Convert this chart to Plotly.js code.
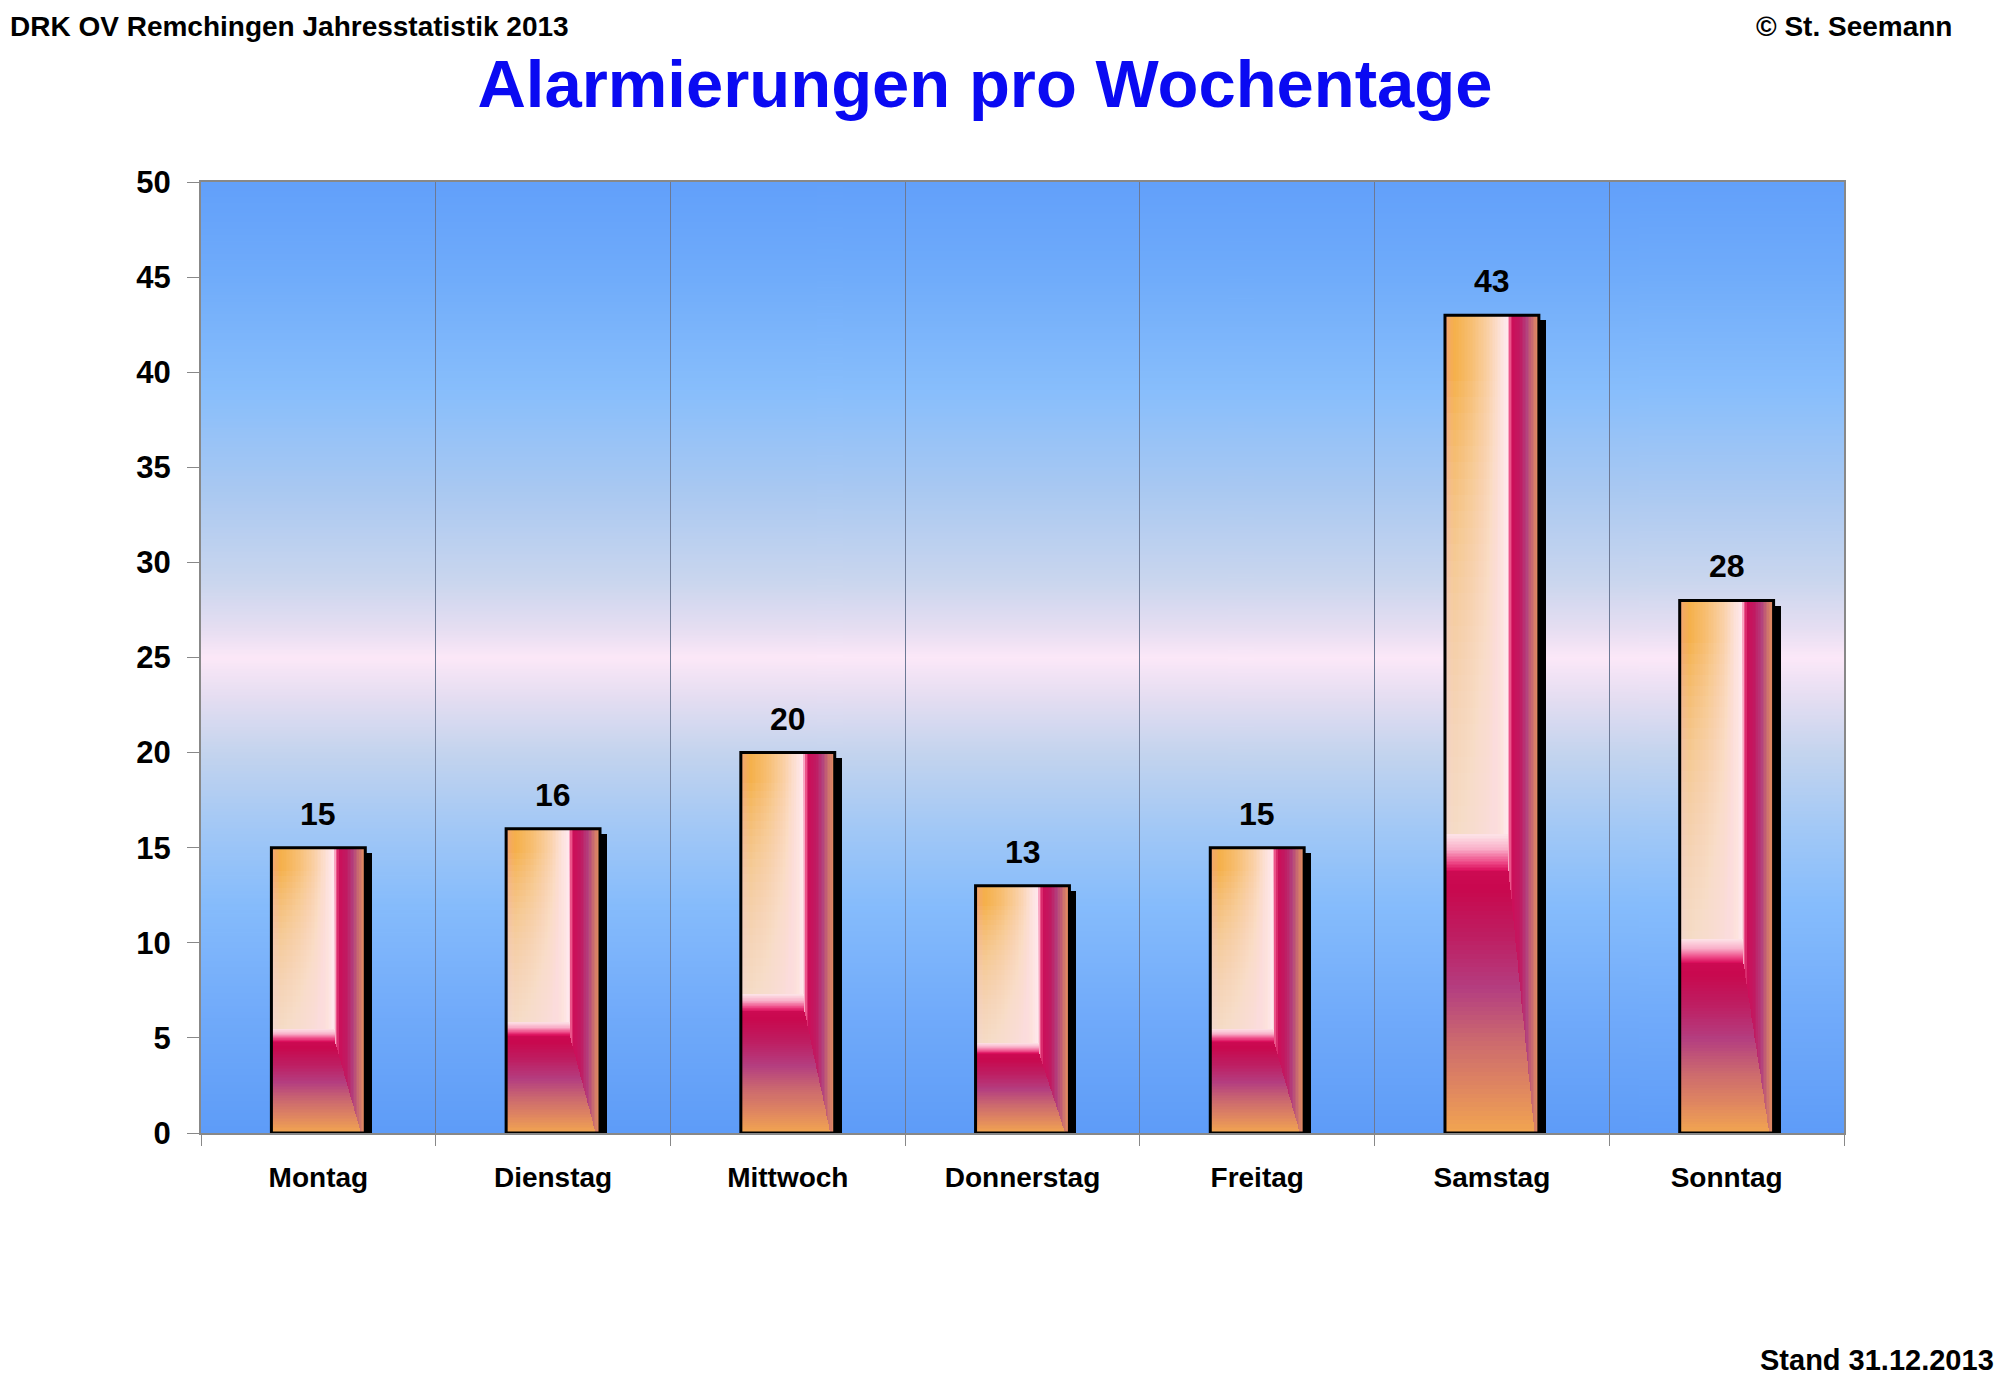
<!DOCTYPE html>
<html>
<head>
<meta charset="utf-8">
<script src="https://cdn.plot.ly/plotly-3.0.1.min.js"></script>
<style>html,body{margin:0;padding:0;background:#fff;}#chart{width:2000px;height:1387px;}</style>
</head>
<body>
<div id="chart"></div>
<script>
// ---- data ----
const days = ["Montag", "Dienstag", "Mittwoch", "Donnerstag", "Freitag", "Samstag", "Sonntag"];
const alarms = [15, 16, 20, 13, 15, 43, 28];
const yTicks = [0, 5, 10, 15, 20, 25, 30, 35, 40, 45, 50];
const chartTitle = "Alarmierungen pro Wochentage";
const headerLeft = "DRK OV Remchingen Jahresstatistik 2013";
const headerRight = "© St. Seemann";
const footerRight = "Stand 31.12.2013";

// ---- style ----
const FONT = "'Comic Sans MS', 'Liberation Sans', Arial, sans-serif";
const BW = 0.4;            // bar width (category units)
const N = 60;              // horizontal colour stripes per bar
const M = 60;              // vertical slices in lower section
const G = 24;              // slices in glow band
const MF = 30;             // white fade layers
const LOW = 0.32;          // lower section share of bar height
const GLOW = 0.045;        // glow band share of bar height

const barScale = [
  [0.00, "#F2A088"], [0.03, "#F4A866"], [0.10, "#F5B04A"], [0.28, "#F7BE72"],
  [0.46, "#FAD0A6"], [0.60, "#FDE2DC"], [0.665, "#FFE8EE"], [0.685, "#F26496"],
  [0.72, "#CC0E58"], [0.80, "#C01A62"], [0.87, "#B2407E"], [0.94, "#CE746C"],
  [1.00, "#EA955C"]
];
const lowScale = [
  [0.00, "#F2A650"], [0.15, "#E28A5E"], [0.35, "#CC6A6E"], [0.55, "#B43E80"],
  [0.75, "#BE1E62"], [0.93, "#C8084E"], [1.00, "#CC0A52"]
];
const glowScale = [[0.0, "#D80A58"], [0.25, "#EE4A88"], [0.6, "#F9AEC8"], [1.0, "#FDE4E8"]];
const bgStops = [
  [0.00, "#62A0FA"], [0.10, "#70ACFA"], [0.22, "#88BEFC"], [0.32, "#A8C8F2"],
  [0.42, "#CAD6EE"], [0.47, "#E6DEF2"], [0.50, "#FCE8F8"], [0.54, "#E6DEF2"],
  [0.60, "#C4D4EE"], [0.68, "#A2C8F6"], [0.76, "#86BCFC"], [0.88, "#70AAFA"],
  [1.00, "#5E9CF8"]
];

function hex2rgb(h){return [parseInt(h.substr(1,2),16),parseInt(h.substr(3,2),16),parseInt(h.substr(5,2),16)];}
function scaleAt(sc, t){
  t = Math.max(0, Math.min(1, t));
  for (let i = 1; i < sc.length; i++) {
    if (t <= sc[i][0]) {
      const a = sc[i-1], b = sc[i];
      const f = (t - a[0]) / (b[0] - a[0] || 1);
      const ca = hex2rgb(a[1]), cb = hex2rgb(b[1]);
      return "rgb(" + ca.map((v,k)=>Math.round(v + (cb[k]-v)*f)).join(",") + ")";
    }
  }
  return sc[sc.length-1][1];
}

// background gradient image
const cv = document.createElement("canvas");
cv.width = 4; cv.height = 600;
const ctx = cv.getContext("2d");
const grd = ctx.createLinearGradient(0, 0, 0, 600);
bgStops.forEach(s => grd.addColorStop(s[0], s[1]));
ctx.fillStyle = grd; ctx.fillRect(0, 0, 4, 600);
const bgURL = cv.toDataURL("image/png");

const xIdx = days.map((d, i) => i);

// shadow
const shadow = {
  type: "bar", x: xIdx, y: alarms, base: alarms.map(() => -0.27),
  width: BW, offset: -BW/2 + 0.03,
  marker: {color: "#000", line: {width: 0}}, hoverinfo: "skip", showlegend: false
};

// horizontal stripes (cumulative, no seams)
const sx = [], sy = [], sb = [], so = [], sw = [], sc = [];
alarms.forEach((v, i) => {
  for (let j = 0; j < N; j++) {
    sx.push(i); sy.push(v); sb.push(0);
    so.push(-BW/2 + j*BW/N); sw.push(BW - j*BW/N);
    sc.push(scaleAt(barScale, (j + 0.5)/N));
  }
});
const stripes = {type: "bar", x: sx, y: sy, base: sb, offset: so, width: sw,
  marker: {color: sc, line: {width: 0}}, hoverinfo: "skip", showlegend: false};

// white fade on the left part of upper region (cumulative alpha layers)
const fx = [], fy = [], fb = [], fc = [];
alarms.forEach((v, i) => {
  const lo = v*LOW, hi = v*0.92;
  for (let k = 0; k < MF; k++) {
    const top = hi - k*(hi - lo)/MF;
    fx.push(i); fb.push(lo); fy.push(top - lo); fc.push("rgba(255,240,242,0.055)");
  }
});
const fade = {type: "bar", x: fx, y: fy, base: fb, offset: -BW/2, width: BW*0.675,
  marker: {color: fc, line: {width: 0}}, hoverinfo: "skip", showlegend: false};

// lower section (vertical gradient, diagonal right edge) + glow band
const lx = [], ly = [], lb = [], lo2 = [], lw = [], lc = [];
alarms.forEach((v, i) => {
  const H = v*LOW;
  for (let k = 0; k < M; k++) {
    const yb = k*H/M;
    const t = (k + 0.5)/M;
    const hgt = Math.min(H - yb, H/M*1.6);
    lx.push(i); lb.push(yb); ly.push(hgt); lo2.push(-BW/2);
    lw.push(BW*(0.95 - 0.275*t)); lc.push(scaleAt(lowScale, t));
  }
  const Hg = v*GLOW;
  for (let k = 0; k < G; k++) {
    const yb = H + k*Hg/G;
    const t = (k + 0.5)/G;
    const hgt = Math.min(H + Hg - yb, Hg/G*1.6);
    lx.push(i); lb.push(yb); ly.push(hgt); lo2.push(-BW/2);
    lw.push(BW*0.675); lc.push(scaleAt(glowScale, t));
  }
});
const lower = {type: "bar", x: lx, y: ly, base: lb, offset: lo2, width: lw,
  marker: {color: lc, line: {width: 0}}, hoverinfo: "skip", showlegend: false};

// outline
const outline = {type: "bar", x: xIdx, y: alarms, width: BW, offset: -BW/2,
  marker: {color: "rgba(0,0,0,0)", line: {color: "#000", width: 3}},
  hoverinfo: "skip", showlegend: false};

const valueLabels = alarms.map((v, i) => ({
  x: i, y: v, xref: "x", yref: "y", text: String(v), showarrow: false,
  yanchor: "bottom", yshift: 14,
  font: {family: FONT, size: 32, color: "#000", weight: "bold"}
}));

const layout = {
  width: 2000, height: 1387,
  margin: {l: 201, r: 156, t: 182, b: 254},
  paper_bgcolor: "#fff", plot_bgcolor: "rgba(0,0,0,0)",
  barmode: "overlay", bargap: 0, hovermode: false, showlegend: false,
  font: {family: FONT, color: "#000"},
  title: {text: chartTitle, x: 0.4925, xref: "container", xanchor: "center",
          y: 1 - 84/1387, yref: "container", yanchor: "middle",
          font: {family: FONT, size: 67, color: "#0A0AF2", weight: "bold"}},
  xaxis: {
    range: [-0.5, 6.5], tickmode: "array", tickvals: xIdx, ticktext: days,
    ticks: "", showgrid: false, zeroline: false, fixedrange: true,
    showline: true, linecolor: "#888", linewidth: 2, mirror: true,
    ticklabelstandoff: 18,
    tickfont: {family: FONT, size: 28, color: "#000", weight: "bold"},
    minor: {tickmode: "linear", tick0: -0.5, dtick: 1, ticks: "outside", ticklen: 11,
            tickcolor: "#888", tickwidth: 1, showgrid: true, gridcolor: "#6C7894", gridwidth: 1}
  },
  yaxis: {
    range: [0, 50], tickmode: "array", tickvals: yTicks, ticks: "outside", ticklen: 12,
    tickcolor: "#888", tickwidth: 1, showgrid: false, zeroline: false, fixedrange: true,
    showline: true, linecolor: "#888", linewidth: 2, mirror: true,
    ticklabelstandoff: 10,
    tickfont: {family: FONT, size: 31, color: "#000", weight: "bold"}
  },
  images: [{source: bgURL, xref: "paper", yref: "paper", x: 0, y: 1, sizex: 1, sizey: 1,
            xanchor: "left", yanchor: "top", sizing: "stretch", layer: "below"}],
  annotations: valueLabels.concat([
    {text: headerLeft, xref: "paper", yref: "paper", x: (8-201)/1643, y: (1133-27)/951,
     xanchor: "left", yanchor: "middle", showarrow: false,
     font: {family: FONT, size: 28, color: "#000", weight: "bold"}},
    {text: headerRight, xref: "paper", yref: "paper", x: (1954-201)/1643, y: (1133-27)/951,
     xanchor: "right", yanchor: "middle", showarrow: false,
     font: {family: FONT, size: 28, color: "#000", weight: "bold"}},
    {text: footerRight, xref: "paper", yref: "paper", x: (1996-201)/1643, y: (1133-1360)/951,
     xanchor: "right", yanchor: "middle", showarrow: false,
     font: {family: FONT, size: 29, color: "#000", weight: "bold"}}
  ])
};

Plotly.newPlot("chart", [shadow, stripes, fade, lower, outline], layout,
  {displayModeBar: false, staticPlot: true});
</script>
</body>
</html>
